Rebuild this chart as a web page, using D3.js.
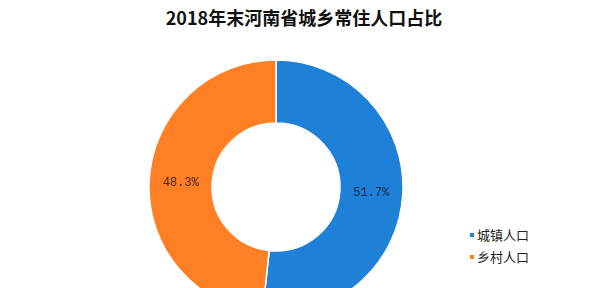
<!DOCTYPE html>
<html><head><meta charset="utf-8">
<script src="https://cdn.jsdelivr.net/npm/d3@7"></script>
<style>html,body{margin:0;padding:0;background:#fff;}svg{display:block;}</style>
</head><body>
<svg id="chart" width="600" height="288"></svg>
<script>
const title = "2018年末河南省城乡常住人口占比";
const categories = ["城镇人口", "乡村人口"];
const values = [51.7, 48.3];
const labels = ["51.7%", "48.3%"];
const colors = ["#1f80d8", "#ff7f24"];
const labelColors = ["#1c2a4a", "#4a2a22"];

const svg = d3.select("#chart");
const cx = 276, cy = 187, rOuter = 127, rInner = 64;

svg.append("text").attr("x", 304).attr("y", 25).attr("text-anchor", "middle")
  .attr("font-family", "'Noto Sans CJK SC', sans-serif").attr("font-weight", "bold")
  .attr("font-size", 18).attr("fill", "#111").text(title);

const pie = d3.pie().sort(null).value(d => d)(values);
const arc = d3.arc().innerRadius(rInner).outerRadius(rOuter);
const g = svg.append("g").attr("transform", `translate(${cx},${cy})`);
g.selectAll("path").data(pie).join("path")
  .attr("d", arc).attr("fill", (d, i) => colors[i])
  .attr("stroke", "#fff").attr("stroke-width", 1.5);
g.selectAll("text").data(pie).join("text")
  .attr("transform", d => `translate(${arc.centroid(d)})`)
  .attr("text-anchor", "middle").attr("dy", "0.35em")
  .attr("font-family", "'Liberation Mono', monospace").attr("font-size", 12)
  .attr("fill", (d, i) => labelColors[i]).text((d, i) => labels[i]);

const leg = svg.append("g").selectAll("g").data(categories).join("g")
  .attr("transform", (d, i) => `translate(470,${235 + i * 22})`);
leg.append("rect").attr("x", 0).attr("y", -2).attr("width", 4).attr("height", 4)
  .attr("fill", (d, i) => colors[i]);
leg.append("text").attr("x", 7).attr("dy", "0.35em")
  .attr("font-family", "'Noto Sans CJK SC', sans-serif").attr("font-size", 13)
  .attr("fill", "#222").text(d => d);
</script>
</body></html>
